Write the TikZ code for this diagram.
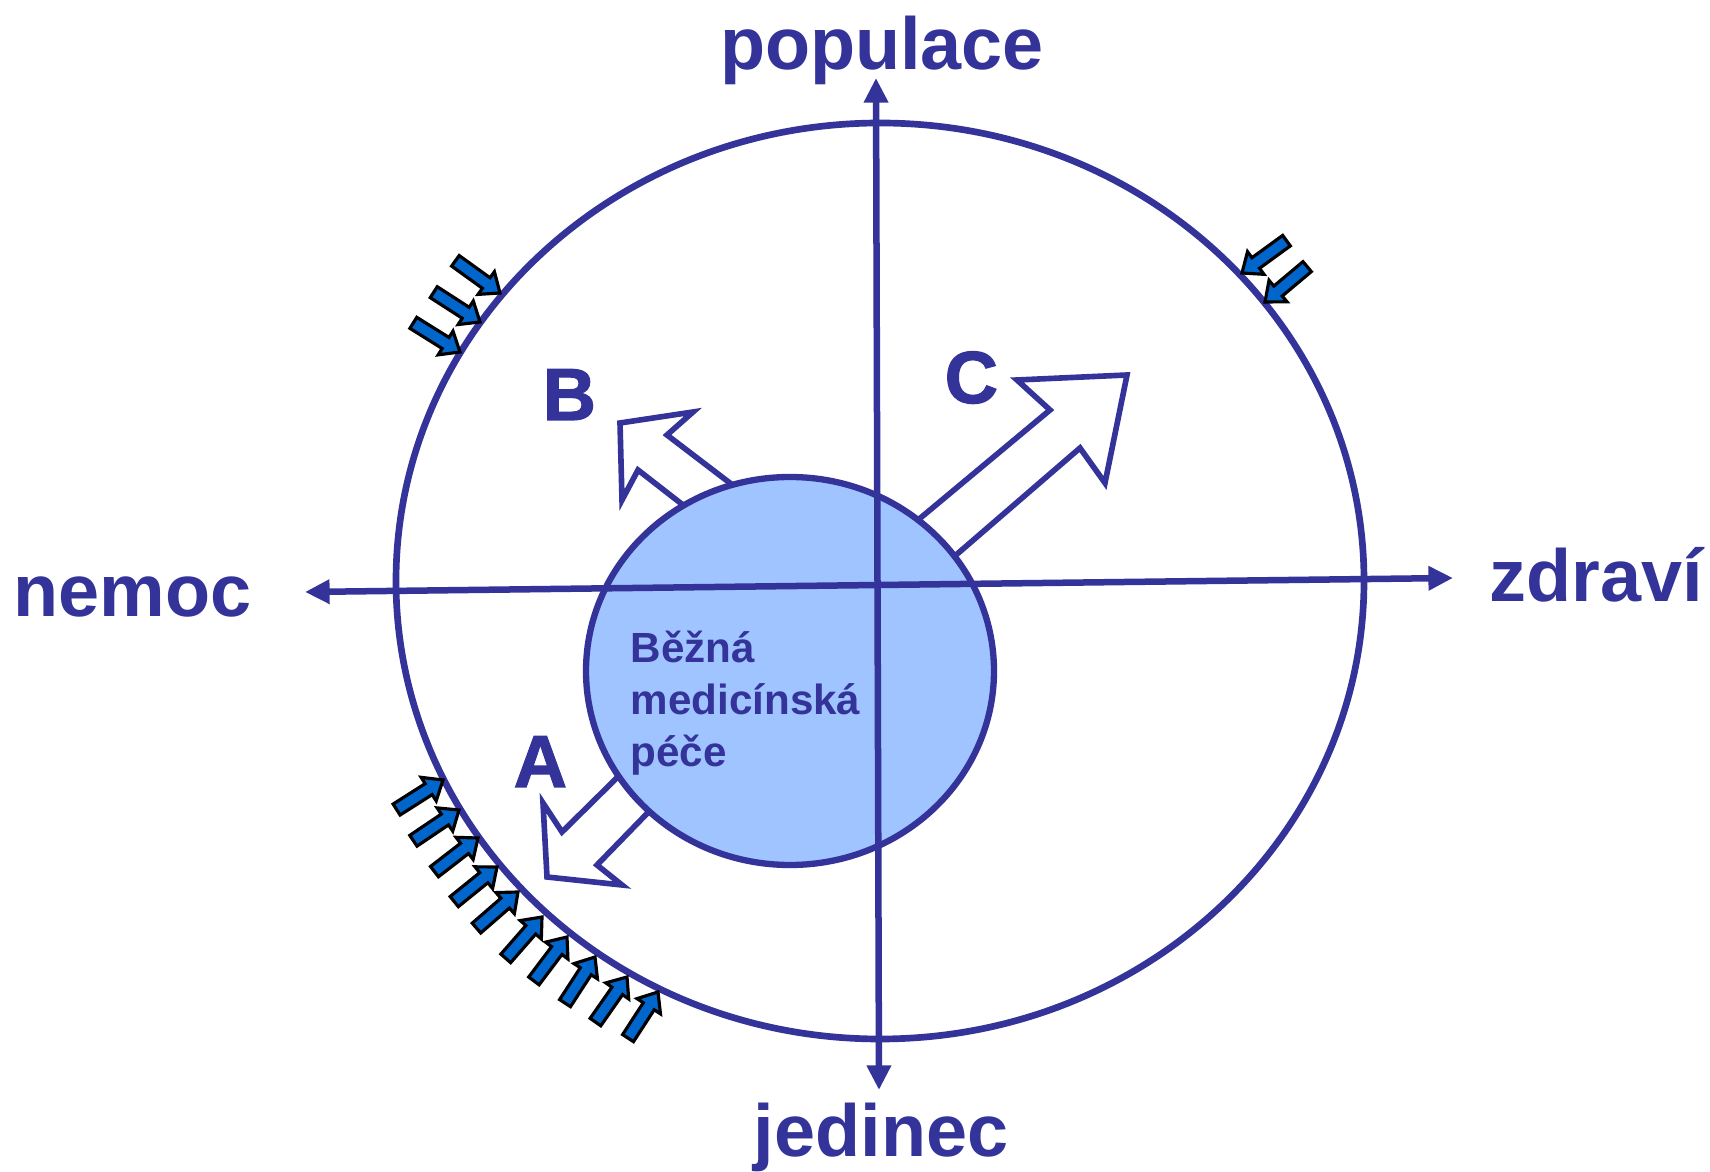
\documentclass[tikz,border=0pt]{standalone}
\usepackage{fontspec}
\setmainfont{Liberation Sans}
\newfontfamily\heavyfont[FakeBold=1.6]{Liberation Sans Bold}
\usetikzlibrary{arrows.meta}
\definecolor{navy}{HTML}{333399}
\definecolor{skyfill}{HTML}{A0C4FF}
\definecolor{arrblue}{HTML}{0066CC}

\begin{document}
\begin{tikzpicture}[x=0.1mm, y=-0.1mm, >={Triangle[length=7pt, width=6.6pt]},
  axis/.style={navy, line width=1.85pt},
  axlabel/.style={text=navy, inner sep=0pt, font=\fontsize{21}{25}\selectfont\bfseries},
  letter/.style={text=navy, inner sep=0pt, font=\fontsize{21}{25}\selectfont\heavyfont},
  hollow/.style={draw=navy, fill=white, line width=1.6pt, line join=miter},
  inarr/.pic={\draw[black, fill=arrblue, line width=0.9pt, line join=miter]
    (0,0) -- (-17,14) -- (-17,6.5) -- (-55,6.5) -- (-55,-6.5) -- (-17,-6.5) -- (-17,-14) -- cycle;}]
\useasboundingbox (0,0) rectangle (1710,1172);

% outer ellipse
\draw[navy, line width=1.9pt] (880,581) ellipse [x radius=484, y radius=458];

% small arrows pushing on the ellipse
\pic[rotate=-35.8] at (500,293) {inarr};
\pic[rotate=-32.8] at (480,322) {inarr};
\pic[rotate=-32] at (460,352) {inarr};
\pic[rotate=-144] at (1242,273) {inarr};
\pic[rotate=-140] at (1265,302) {inarr};
\pic[rotate=32.5] at (443,780) {inarr};
\pic[rotate=34] at (459,810) {inarr};
\pic[rotate=37.7] at (478,838) {inarr};
\pic[rotate=39] at (497,867) {inarr};
\pic[rotate=41] at (518,892) {inarr};
\pic[rotate=48.8] at (542,917) {inarr};
\pic[rotate=53] at (567,937) {inarr};
\pic[rotate=57] at (595,957) {inarr};
\pic[rotate=55] at (627,977) {inarr};
\pic[rotate=57] at (658,992) {inarr};

% hollow arrows out of the circle
\draw[hollow] (760,506) -- (667,435) -- (693,412) -- (620,423) -- (622,500) -- (638,470) -- (710,526) -- cycle;
\draw[hollow] (894,540) -- (1050,410) -- (1017,380) -- (1127,375) -- (1105,483) -- (1080,448) -- (934,574) -- cycle;
\draw[hollow] (639,756) -- (562,832) -- (543,803) -- (547,877) -- (622,885) -- (597,865) -- (668,792) -- cycle;

% inner circle
\draw[navy, fill=skyfill, line width=1.8pt] (790,671) ellipse [x radius=204, y radius=194];

% axes
\coordinate (up) at (876,78);
\coordinate (down) at (879,1090);
\coordinate (left) at (305,592);
\coordinate (right) at (1453,578);
\draw[axis, <->] (down) -- (up);
\draw[axis, <->] (left) -- (right);

\node[axlabel, anchor=base] (pop) at (882,70) {populace};
\node[axlabel, anchor=base] (jed) at (881,1156) {jedinec};
\node[axlabel, anchor=base west] (nem) at (13,617) {nemoc};
\node[axlabel, anchor=base west] (zdr) at (1489,602) {zdraví};

\node[letter, anchor=base west] (lb) at (542,420) {B};
\node[letter, anchor=base west] (lc) at (944,403) {C};
\node[letter, anchor=base west] (la) at (513,787) {A};

\node[text=navy, inner sep=0pt, anchor=north west, align=left,
  font=\fontsize{12}{14.9}\selectfont\bfseries] (care) at (630,630) {Běžná\\medicínská\\péče};
\end{tikzpicture}
\end{document}
